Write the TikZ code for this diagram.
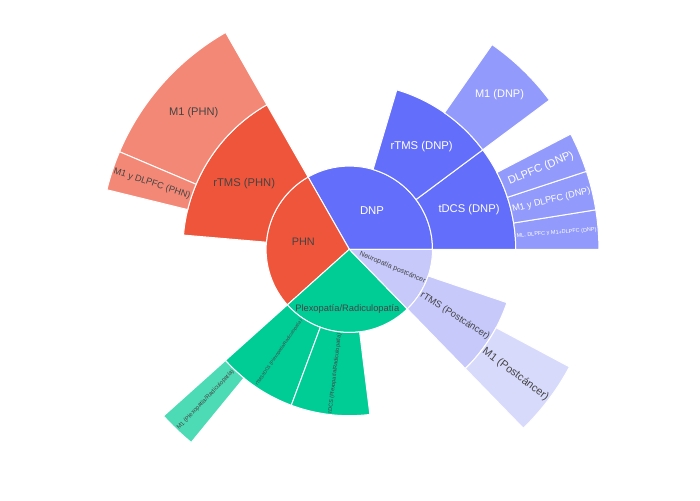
\documentclass[tikz,border=0pt]{standalone}
\usepackage{fontspec}
\setmainfont{Liberation Sans}
\usepackage{graphicx}
\definecolor{cB}{HTML}{636EFA}
\definecolor{cBL}{HTML}{929AFB}
\definecolor{cR}{HTML}{EF553B}
\definecolor{cRL}{HTML}{F48876}
\definecolor{cG}{HTML}{00CC96}
\definecolor{cGL}{HTML}{4CDBB5}
\definecolor{cL}{HTML}{C6C9FA}
\definecolor{cLL}{HTML}{D8DAFC}
\definecolor{dk}{HTML}{444444}
\newcommand{\annsec}[5]{%
  \filldraw[fill=#1, draw=white, line width=1pt, shift={(349.3,250.7)}]
    (#2:#4) arc[start angle=#2, end angle=#3, radius=#4] -- (#3:#5)
    arc[start angle=#3, end angle=#2, radius=#5] -- cycle;}
\newcommand{\piesec}[4]{%
  \filldraw[fill=#1, draw=white, line width=1pt, shift={(349.3,250.7)}]
    (0,0) -- (#2:#4) arc[start angle=#2, end angle=#3, radius=#4] -- cycle;}
\newcommand{\fitw}[2]{\resizebox{#1pt}{!}{#2}}
\tikzset{lbl/.style={inner sep=0pt, anchor=center, text=dk},
         wlbl/.style={inner sep=0pt, anchor=center, text=white}}
\begin{document}
\begin{tikzpicture}[x=1pt,y=1pt]
\useasboundingbox (0,0) rectangle (700,500);
\fill[white] (0,0) rectangle (700,500);
\coordinate (O) at (349.3,250.7);
% level 1
\piesec{cB}{0}{119.7}{83.2}
\piesec{cR}{119.7}{221.9}{83.2}
\piesec{cG}{221.9}{314.2}{83.2}
\piesec{cL}{314.2}{360}{83.2}
% level 2
\annsec{cB}{0}{36.7}{83.2}{166.4}
\annsec{cB}{36.7}{73.4}{83.2}{166.4}
\annsec{cR}{119.7}{175.1}{83.2}{166.4}
\annsec{cG}{221.9}{249.6}{83.2}{166.4}
\annsec{cG}{249.6}{277.1}{83.2}{166.4}
\annsec{cL}{314.2}{341.3}{83.2}{166.4}
% level 3
\annsec{cBL}{0}{9.1}{166.4}{249.6}
\annsec{cBL}{9.1}{18.2}{166.4}{249.6}
\annsec{cBL}{18.2}{27.5}{166.4}{249.6}
\annsec{cBL}{36.7}{55.1}{166.4}{249.6}
\annsec{cRL}{119.7}{157.0}{166.4}{249.6}
\annsec{cRL}{157.0}{166.2}{166.4}{249.6}
\annsec{cGL}{221.9}{230.7}{166.4}{249.6}
\annsec{cLL}{314.2}{331.9}{166.4}{249.6}
% labels, horizontal
\node[wlbl] (dnp) at (372,289.5) {\fitw{24}{DNP}};
\node[lbl] (phn) at (303.3,258) {\fitw{23}{PHN}};
\node[lbl] (plexo) at (347.3,190.7) {\fitw{104}{Plexopatía/Radiculopatía}};
\node[wlbl] (tdcsdnp) at (469,290.5) {\fitw{61}{tDCS (DNP)}};
\node[wlbl] (rtmsdnp) at (421.7,353.3) {\fitw{62}{rTMS (DNP)}};
\node[wlbl] (m1dnp) at (499.5,405) {\fitw{49}{M1 (DNP)}};
\node[lbl] (rtmsphn) at (244.2,316.7) {\fitw{61.7}{rTMS (PHN)}};
\node[lbl] (m1phn) at (193.7,387.7) {\fitw{49.3}{M1 (PHN)}};
% labels, radial
\node[lbl, rotate=-22.9] (neuro) at ([shift={(-22.9:46.9)}]O) {\fitw{71}{Neuropatía postcáncer}};
\node[lbl, rotate=-18.4] (m1dphn) at ([shift={(161.6:208)}]O) {\fitw{80}{M1 y DLPFC (PHN)}};
\node[wlbl, rotate=22.85] (dlpfcdnp) at ([shift={(22.85:208)}]O) {\fitw{70}{DLPFC (DNP)}};
\node[wlbl, rotate=13.65] (m1ddnp) at ([shift={(13.65:208)}]O) {\fitw{80}{M1 y DLPFC (DNP)}};
\node[wlbl, rotate=4.55] (mldnp) at ([shift={(4.55:208)}]O) {\fitw{80}{ML, DLPFC y M1+DLPFC (DNP)}};
\node[lbl, rotate=-32.25] (rtmspc) at ([shift={(-32.25:125)}]O) {\fitw{80}{rTMS (Postcáncer)}};
\node[lbl, rotate=-36.95] (m1pc) at ([shift={(-36.95:208)}]O) {\fitw{80}{M1 (Postcáncer)}};
\node[lbl, rotate=46.3] (m1plx) at ([shift={(226.3:208)}]O) {\fitw{80}{M1 (Plexopatía/Radiculopatía)}};
\node[lbl, rotate=55.75] (rtplx) at ([shift={(235.75:125)}]O) {\fitw{79}{rTMS/tDCS (Plexopatía/Radiculopatía)}};
\node[lbl, rotate=83.35] (tdplx) at ([shift={(263.35:125)}]O) {\fitw{80}{tDCS (Plexopatía/Radiculopatía)}};
\end{tikzpicture}
\end{document}
